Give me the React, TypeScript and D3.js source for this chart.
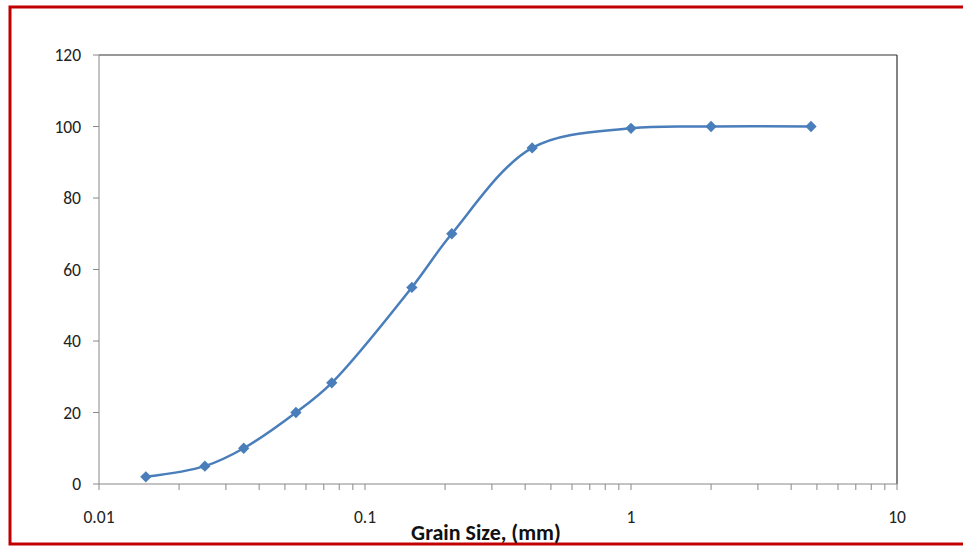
import React from "react";
import * as d3 from "d3";

const grainSize = [0.015, 0.025, 0.035, 0.055, 0.075, 0.15, 0.212, 0.425, 1, 2, 4.75];
const percentFiner = [2, 5, 10, 20, 28.3, 55, 70, 94, 99.5, 100, 100];
const yTicks = [0, 20, 40, 60, 80, 100, 120];
const xMajorTicks = [0.01, 0.1, 1, 10];
const xTickLabels = ["0.01", "0.1", "1", "10"];
const xTitle = "Grain Size, (mm)";

export default function App() {
  const W = 963, H = 547;
  const left = 99, right = 897, top = 55, bottom = 484;
  const x = d3.scaleLog().domain([0.01, 10]).range([left, right]);
  const y = d3.scaleLinear().domain([0, 120]).range([bottom, top]);

  const minor: number[] = [];
  for (let e = -2; e < 1; e++) {
    for (let m = 1; m < 10; m++) minor.push(m * Math.pow(10, e));
  }
  minor.push(10);

  const pts = grainSize.map((g, i) => [x(g), y(percentFiner[i])] as [number, number]);
  const line = d3.line().curve(d3.curveCatmullRom.alpha(0.5))(pts) || "";
  const font = "Carlito, Lato, 'Liberation Sans', sans-serif";

  return (
    <svg width={W} height={H} style={{ position: "absolute", left: 0, top: 0, background: "#fff" }}>
      <rect x={10} y={7} width={W} height={537} fill="#fff" stroke="#c00000" strokeWidth={3} />
      {/* plot frame */}
      <line x1={left} x2={right} y1={top} y2={top} stroke="#333" strokeWidth={1.2} />
      <line x1={right} x2={right} y1={top} y2={bottom} stroke="#333" strokeWidth={1.2} />
      <line x1={left} x2={left} y1={top} y2={bottom} stroke="#888" strokeWidth={1} />
      <line x1={left} x2={right} y1={bottom} y2={bottom} stroke="#888" strokeWidth={1} />
      {yTicks.map((t) => (
        <g key={"y" + t}>
          <line x1={left - 6} x2={left} y1={y(t)} y2={y(t)} stroke="#888" />
          <text x={81} y={y(t)} dy="0.36em" textAnchor="end" fontSize={17.5} fontFamily={font} fill="#222">
            {t}
          </text>
        </g>
      ))}
      {minor.map((t, i) => (
        <line key={"m" + i} x1={x(t)} x2={x(t)} y1={bottom} y2={bottom + 6} stroke="#888" />
      ))}
      {xMajorTicks.map((t, i) => (
        <text key={"x" + t} x={x(t)} y={523} textAnchor="middle" fontSize={17.5} fontFamily={font} fill="#222">
          {xTickLabels[i]}
        </text>
      ))}
      <text x={486} y={540} textAnchor="middle" fontSize={22} fontWeight="bold" fontFamily={font} fill="#111">
        {xTitle}
      </text>
      <path d={line} fill="none" stroke="#4a7ebb" strokeWidth={2.5} />
      {pts.map((p, i) => (
        <rect key={"p" + i} x={-4} y={-4} width={8} height={8}
          transform={`translate(${p[0]},${p[1]}) rotate(45)`} fill="#4a7ebb" />
      ))}
    </svg>
  );
}
